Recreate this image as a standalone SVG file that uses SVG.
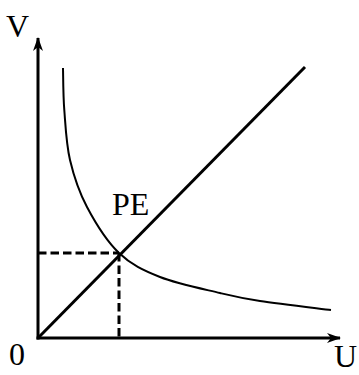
<svg xmlns="http://www.w3.org/2000/svg" width="359" height="375" viewBox="0 0 359 375">
<style>
.ax{stroke:#000;stroke-width:3;fill:none}
.ln{stroke:#000;stroke-width:3;fill:none}
.cv{stroke:#000;stroke-width:2;fill:none}
.ds{stroke:#000;stroke-width:3;fill:none;stroke-dasharray:8.5 4}
text{font-family:"Liberation Serif","Times New Roman",serif;font-size:32px;fill:#000}
</style>
<defs>
<marker id="ah" viewBox="0 0 14 10" refX="13" refY="5" markerWidth="14" markerHeight="10" markerUnits="userSpaceOnUse" orient="auto">
<path d="M0,0 L14,5 L0,10 L4,5 Z" fill="#000"/>
</marker>
</defs>
<rect width="359" height="375" fill="#fff"/>
<g id="connectors">
<line id="y-axis" class="ax" x1="38" y1="339.5" x2="38" y2="38" marker-end="url(#ah)"/>
<line id="x-axis" class="ax" x1="36.5" y1="338" x2="340" y2="338" marker-end="url(#ah)"/>
<line id="diagonal" class="ln" x1="38" y1="338" x2="305" y2="67"/>
<path id="curve" class="cv" d="M63,68 C63.2,75 63.1,94.7 64.3,110 C65.5,125.3 66.2,143.8 70,160 C73.8,176.2 78.8,191.5 87,207 C95.2,222.5 106.8,241.3 119,253 C131.2,264.7 143.2,270.3 160,277 C176.8,283.7 203.3,289 220,293 C236.7,297 241.5,298.2 260,301 C278.5,303.8 319.2,308.5 331,310"/>
<line id="dash-h" class="ds" x1="38" y1="253" x2="119" y2="253"/>
<line id="dash-v" class="ds" x1="119" y1="253" x2="119" y2="338"/>
</g>
<g id="label-V"><text x="6" y="37">V</text></g>
<g id="label-0"><text x="9" y="365">0</text></g>
<g id="label-U"><text x="334" y="367">U</text></g>
<g id="label-PE"><text x="112" y="215">PE</text></g>
</svg>
